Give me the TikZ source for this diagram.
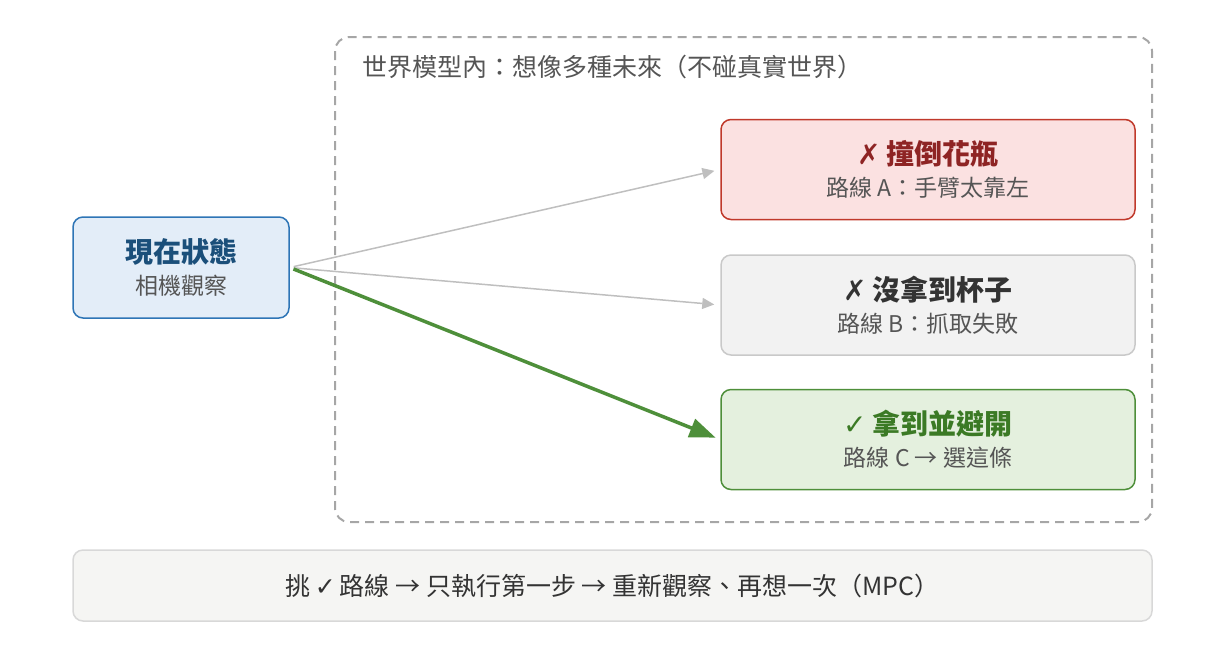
\documentclass[tikz,border=0pt]{standalone}
\usepackage{fontspec}
\setmainfont{Noto Sans CJK TC}
\newfontfamily\sym{DejaVu Sans}
\usetikzlibrary{positioning,arrows.meta}

\definecolor{stateblue}{HTML}{E3EDF8}
\definecolor{stateline}{HTML}{2E75B6}
\definecolor{statetext}{HTML}{1B4F7A}
\definecolor{subgray}{HTML}{555555}
\definecolor{badfill}{HTML}{FBE1E1}
\definecolor{badline}{HTML}{C0392B}
\definecolor{badtext}{HTML}{8E2424}
\definecolor{missfill}{HTML}{F2F2F2}
\definecolor{missline}{HTML}{C9C9C9}
\definecolor{misstext}{HTML}{333333}
\definecolor{okfill}{HTML}{E4F0DE}
\definecolor{okline}{HTML}{4E8F3A}
\definecolor{oktext}{HTML}{3B7A25}
\definecolor{notefill}{HTML}{F5F5F3}
\definecolor{noteline}{HTML}{D8D8D8}

\tikzset{
  card/.style={draw, rounded corners=10pt, line width=1.5pt, align=center,
    minimum width=414pt, minimum height=100pt, inner sep=0pt},
  future/.style={-{Triangle[length=12pt,width=11pt]}, draw=gray!50, line width=1.5pt,
    shorten <=4pt, shorten >=6pt},
}
\newcommand{\twolines}[3]{{\fontsize{28}{32}\selectfont\bfseries\color{#1}#2}\\[9pt]%
  {\fontsize{23}{28}\selectfont\color{subgray}#3}}

\begin{document}
\begin{tikzpicture}[x=1pt, y=-1pt]
  \useasboundingbox (0,0) rectangle (1225,649);

  % imagined futures live inside this frame
  \draw[gray!70, line width=2pt, dash pattern=on 9pt off 6pt, rounded corners=14pt]
    (335,37) rectangle (1152,522);
  \node[anchor=west, font=\fontsize{25}{30}\selectfont, text=subgray] (frame) at (359,67)
    {世界模型內：想像多種未來（不碰真實世界）};

  \node[card, fill=stateblue, draw=stateline, minimum width=216pt, minimum height=101pt]
    (state) at (181,267.5) {\twolines{statetext}{現在狀態}{相機觀察}};

  \node[card, fill=badfill, draw=badline] (A) at (928,169.5)
    {\twolines{badtext}{{\sym ✗} 撞倒花瓶}{路線 A：手臂太靠左}};
  \node[card, fill=missfill, draw=missline, below=34pt of A] (B)
    {\twolines{misstext}{{\sym ✗} 沒拿到杯子}{路線 B：抓取失敗}};
  \node[card, fill=okfill, draw=okline, below=33pt of B] (C)
    {\twolines{oktext}{{\sym ✓} 拿到並避開}{路線 C → 選這條}};

  \path
    (state.east) edge[future] (A.west)
    (state.east) edge[future] (B.west)
    (state.east) edge[-{Triangle[length=26pt,width=19pt]}, draw=okline, line width=3.5pt,
      shorten <=4pt, shorten >=5pt] (C.west);

  % receding horizon
  \node[draw=noteline, fill=notefill, line width=1.5pt, rounded corners=10pt,
    minimum width=1079pt, minimum height=71pt, font=\fontsize{25}{30}\selectfont,
    text=misstext] (mpc) at (612.5,585.5)
    {挑\,{\sym ✓}\,路線 → 只執行第一步 → 重新觀察、再想一次（MPC）};
\end{tikzpicture}
\end{document}
